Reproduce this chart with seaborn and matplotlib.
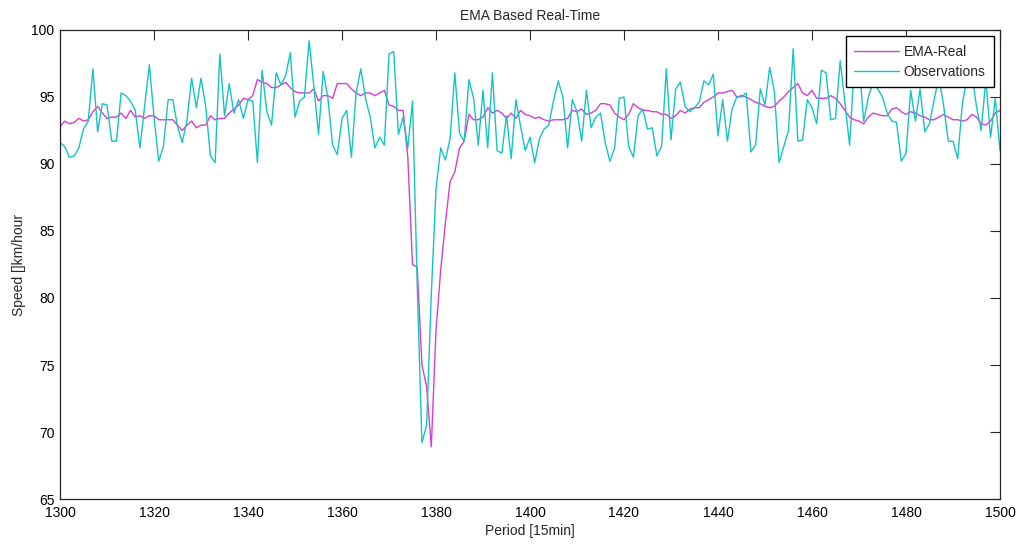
import numpy as np
import pandas as pd
import matplotlib
matplotlib.use("Agg")
import matplotlib.pyplot as plt
import seaborn as sns

# Time axis: 15-minute periods 1300..1500
periods = list(range(1300, 1501))

# Measured speeds [km/hour]
observations = [
    91.6, 91.3, 90.5, 90.6, 91.2, 92.6, 93.2, 97.1, 92.4, 94.5,
    94.4, 91.7, 91.7, 95.3, 95.1, 94.7, 94.0, 91.2, 94.3, 97.4,
    93.5, 90.2, 91.3, 94.8, 94.8, 92.8, 91.6, 93.2, 96.4, 94.2,
    96.4, 94.3, 90.6, 90.1, 98.2, 93.6, 96.0, 93.8, 94.8, 93.4,
    94.8, 94.7, 90.1, 97.0, 93.9, 92.9, 96.8, 95.9, 96.6, 98.3,
    93.5, 94.7, 95.0, 99.2, 95.8, 92.2, 96.9, 94.9, 91.4, 90.7,
    93.4, 94.0, 90.5, 95.3, 97.1, 94.9, 93.5, 91.2, 92.0, 91.4,
    98.2, 98.4, 92.2, 93.5, 91.2, 94.7, 81.0, 69.2, 70.5, 80.3,
    88.1, 91.2, 90.3, 91.9, 96.8, 92.3, 91.7, 96.3, 94.9, 91.4,
    95.5, 91.2, 96.8, 91.0, 90.8, 93.6, 90.4, 94.8, 92.8, 91.0,
    92.0, 90.1, 91.9, 92.6, 92.9, 94.7, 96.2, 95.0, 91.2, 94.8,
    93.9, 91.7, 95.5, 92.7, 93.5, 93.8, 91.6, 90.2, 91.2, 94.9,
    95.0, 91.3, 90.5, 93.6, 94.1, 92.6, 92.7, 90.6, 91.3, 97.1,
    91.8, 95.6, 96.1, 94.3, 93.9, 94.2, 94.6, 96.2, 95.9, 96.7,
    92.1, 94.8, 91.7, 94.1, 95.0, 95.0, 95.3, 90.9, 91.4, 95.6,
    94.4, 97.2, 95.4, 90.1, 91.3, 92.5, 98.6, 91.7, 91.8, 94.8,
    94.2, 93.0, 97.0, 96.8, 93.3, 93.4, 97.7, 94.6, 91.4, 97.3,
    97.6, 93.2, 95.0, 96.1, 95.6, 95.0, 93.8, 93.2, 93.1, 90.2,
    90.8, 95.5, 93.2, 95.6, 92.4, 93.0, 94.8, 96.5, 94.4, 91.7,
    91.7, 90.4, 94.5, 96.5, 96.8, 94.3, 92.5, 96.3, 92.0, 94.9,
    91.0,
]

# Exponential moving average estimate [km/hour]
ema_real = [
    92.8, 93.2, 93.0, 93.1, 93.4, 93.2, 93.3, 93.9, 94.3, 93.8,
    93.4, 93.5, 93.5, 93.8, 93.4, 94.0, 93.5, 93.6, 93.4, 93.6,
    93.6, 93.3, 93.3, 93.3, 93.3, 92.9, 92.5, 92.9, 93.2, 92.7,
    92.9, 92.9, 93.6, 93.3, 93.4, 93.4, 93.8, 94.1, 94.4, 94.9,
    94.8, 95.1, 96.3, 96.1, 96.0, 95.7, 95.7, 95.9, 96.1, 95.7,
    95.4, 95.3, 95.3, 95.3, 95.6, 94.7, 95.1, 95.1, 94.9, 96.0,
    96.0, 96.0, 95.6, 95.3, 95.1, 95.3, 95.3, 95.1, 95.3, 95.5,
    94.4, 94.3, 94.0, 94.0, 90.5, 82.5, 82.3, 75.0, 73.4, 68.9,
    77.6, 82.1, 85.6, 88.7, 89.4, 91.2, 91.7, 93.7, 93.3, 93.3,
    93.5, 94.2, 93.8, 94.0, 93.8, 93.4, 93.8, 93.4, 94.0, 93.7,
    93.6, 93.4, 93.5, 93.3, 93.2, 93.3, 93.3, 93.3, 93.4, 94.0,
    93.9, 94.1, 93.7, 93.8, 94.0, 94.5, 94.5, 94.4, 93.8, 93.5,
    93.3, 93.7, 94.5, 94.2, 94.0, 94.0, 93.9, 93.9, 93.7, 93.7,
    93.4, 93.6, 94.0, 93.8, 94.1, 94.2, 94.2, 94.6, 94.8, 95.0,
    95.3, 95.3, 95.4, 95.5, 95.0, 95.1, 95.0, 94.8, 94.6, 94.5,
    94.3, 94.2, 94.3, 94.7, 95.0, 95.4, 95.7, 96.0, 95.3, 95.1,
    95.5, 94.9, 94.9, 94.9, 95.1, 94.9, 94.5, 94.0, 93.5, 93.3,
    93.2, 93.0, 93.5, 93.8, 93.7, 93.6, 93.6, 94.1, 94.2, 93.9,
    93.7, 93.9, 93.8, 93.6, 93.5, 93.3, 93.3, 93.5, 93.7, 93.5,
    93.3, 93.3, 93.2, 93.3, 93.7, 93.5, 93.0, 92.9, 93.2, 93.8,
    94.0,
]

x_ticks = list(range(1300, 1501, 20))
y_ticks = list(range(65, 101, 5))

sns.set_style("white")
plt.rcParams["font.family"] = ["Liberation Sans", "DejaVu Sans"]
plt.rcParams["font.size"] = 10

df = pd.DataFrame({"period": periods, "ema": ema_real, "obs": observations})

fig = plt.figure(figsize=(10.21, 5.44), dpi=100)
ax = fig.add_axes([0.0588, 0.0827, 0.9206, 0.8622])

sns.lineplot(data=df, x="period", y="ema", ax=ax, color="#d43fd4",
             linewidth=1.0, label="EMA-Real")
sns.lineplot(data=df, x="period", y="obs", ax=ax, color="#14c4c4",
             linewidth=1.0, label="Observations")

ax.set_xlim(1300, 1500)
ax.set_ylim(65, 100)
ax.set_xticks(x_ticks)
ax.set_yticks(y_ticks)
ax.tick_params(direction="in", top=True, right=True, length=7,
               width=0.8, color="#262626", labelsize=10,
               labelcolor="#000000")
ax.tick_params(axis="x", pad=5)
ax.tick_params(axis="y", pad=4)
for side in ax.spines.values():
    side.set_color("#262626")
    side.set_linewidth(0.9)

ax.set_title("EMA Based Real-Time", fontsize=10, pad=7)
ax.set_xlabel("Period [15min]", fontsize=10, labelpad=3)
ax.set_ylabel("Speed []km/hour", fontsize=10, labelpad=4)

leg = ax.legend(loc="upper right", fancybox=False, framealpha=1.0,
                edgecolor="#000000", fontsize=10, handlelength=3.25,
                borderaxespad=0.45, borderpad=0.6, labelspacing=0.45,
                handletextpad=0.3)
leg.get_frame().set_linewidth(1.0)

fig.savefig("out.png", dpi=100)
